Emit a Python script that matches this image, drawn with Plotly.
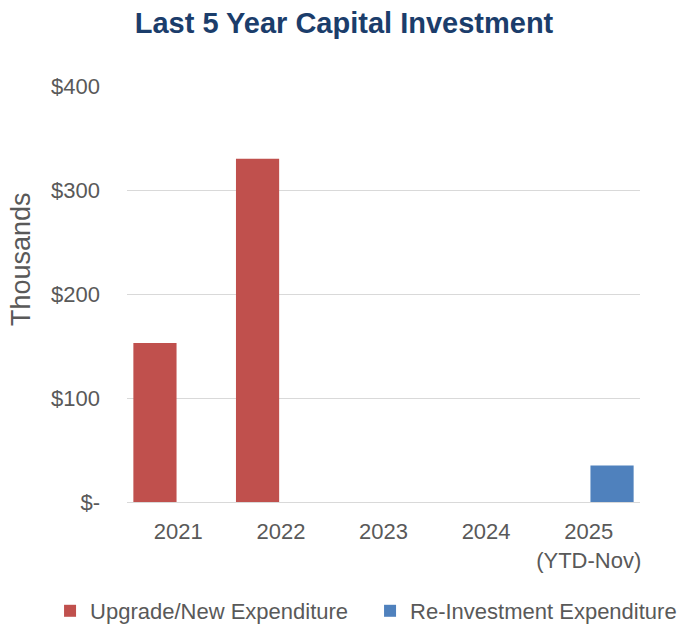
import plotly.graph_objects as go

# Capital investment by year, in thousands of dollars
years = ["2021", "2022", "2023", "2024", "2025<br>(YTD-Nov)"]
upgrade_new = [153, 330, 0, 0, 0]
reinvestment = [0, 0, 0, 0, 35]

y_tick_vals = [0, 100, 200, 300, 400]
y_tick_text = ["$-", "$100", "$200", "$300", "$400"]

RED = "#C0504D"
BLUE = "#4F81BD"
GRAY_TEXT = "#595959"
TITLE_BLUE = "#1B3D6B"
BASE_FONT = "Liberation Sans, Arial, sans-serif"

fig = go.Figure()
fig.add_trace(go.Bar(
    x=years, y=upgrade_new, name="Upgrade/New Expenditure",
    marker=dict(color=RED, line=dict(width=0)),
    legendwidth=275,
))
fig.add_trace(go.Bar(
    x=years, y=reinvestment, name="Re-Investment Expenditure",
    marker=dict(color=BLUE, line=dict(width=0)),
    legendwidth=268,
))

fig.update_layout(
    width=681, height=624,
    margin=dict(l=127, r=41, t=86, b=122, autoexpand=False),
    paper_bgcolor="white", plot_bgcolor="white",
    barmode="group", bargap=0.09, bargroupgap=0.075,
    title=dict(
        text="<b>Last 5 Year Capital Investment</b>",
        font=dict(family=BASE_FONT, size=29, color=TITLE_BLUE),
        x=344 / 681, xanchor="center", xref="container",
        y=1 - 23 / 624, yref="container", yanchor="middle",
    ),
    font=dict(family=BASE_FONT, color=GRAY_TEXT, size=22),
    showlegend=True,
    legend=dict(
        orientation="h", x=-0.150, xanchor="left", xref="paper",
        y=-0.262, yanchor="middle", yref="paper",
        font=dict(size=22, color=GRAY_TEXT),
        entrywidthmode="pixels",
        traceorder="normal",
        bgcolor="rgba(0,0,0,0)",
    ),
    hovermode=False,
    # y-axis caption, set a little above the plot's vertical centre
    annotations=[dict(
        text="Thousands", textangle=-90,
        xref="paper", x=(21 - 127) / 513, xanchor="center",
        yref="paper", y=(502 - 259) / 416, yanchor="middle",
        showarrow=False, font=dict(size=27, color=GRAY_TEXT),
    )],
)

fig.update_xaxes(
    type="category",
    showgrid=False, showline=False, zeroline=False,
    ticks="", ticklabelstandoff=14,
    tickfont=dict(size=22, color=GRAY_TEXT),
)
fig.update_yaxes(
    range=[0, 400], tickvals=y_tick_vals, ticktext=y_tick_text,
    showgrid=True, gridcolor="#D9D9D9", gridwidth=1,
    zeroline=True, zerolinecolor="#D9D9D9", zerolinewidth=1,
    showline=False, ticks="", ticklabelstandoff=26,
    tickfont=dict(size=22, color=GRAY_TEXT),
)

fig.write_html("out.html")
